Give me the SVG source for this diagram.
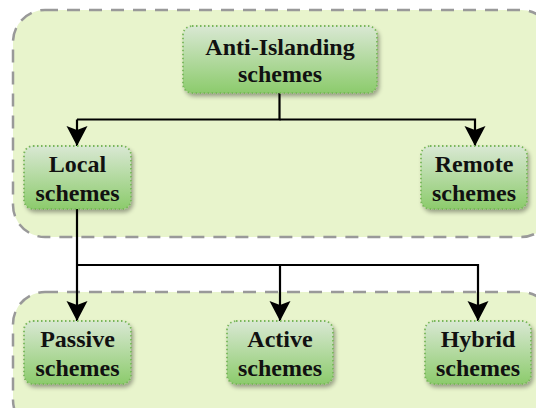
<svg xmlns="http://www.w3.org/2000/svg" width="536" height="408" viewBox="0 0 536 408">
<defs>
<linearGradient id="ng" x1="0" y1="0" x2="0" y2="1">
<stop offset="0" stop-color="#d9e8d3"/>
<stop offset="1" stop-color="#8ccb6c"/>
</linearGradient>
<filter id="sh" x="-10%" y="-10%" width="130%" height="140%">
<feGaussianBlur in="SourceAlpha" stdDeviation="2"/>
<feOffset dx="2" dy="3" result="b"/>
<feComponentTransfer><feFuncA type="linear" slope="0.35"/></feComponentTransfer>
<feMerge><feMergeNode/><feMergeNode in="SourceGraphic"/></feMerge>
</filter>
<marker id="arr" markerWidth="24" markerHeight="24" viewBox="0 0 24 24" refX="21" refY="12" orient="auto" markerUnits="userSpaceOnUse">
<path d="M1,1.5 L21,12 L1,22.5 L5,12 Z" fill="#000"/>
</marker>
<style>
.cont{fill:#e8f4cc;stroke:#999;stroke-width:2.5;stroke-dasharray:13,9}
.node{fill:url(#ng);stroke:#78b65a;stroke-width:1.8;stroke-dasharray:1.5,2.5;filter:url(#sh)}
.lbl{font-family:"Liberation Serif","Times New Roman",serif;font-weight:bold;font-size:24px;fill:#111;text-anchor:middle}
.edge{fill:none;stroke:#000;stroke-width:2.2}
</style>
</defs>
<g id="container-top"><rect class="cont" x="13" y="10" width="540" height="227" rx="32"/></g>
<g id="container-bottom"><rect class="cont" x="13" y="292" width="540" height="140" rx="32"/></g>
<g id="connectors">
<path class="edge" d="M279.5,93 V119.5 H77"/>
<path class="edge" d="M279.5,119.5 H475 V146" marker-end="url(#arr)"/>
<path class="edge" d="M77,119.5 V146" marker-end="url(#arr)"/>
<path class="edge" d="M77,209 V321" marker-end="url(#arr)"/>
<path class="edge" d="M77,265 H478 V321" marker-end="url(#arr)"/>
<path class="edge" d="M280,265 V321" marker-end="url(#arr)"/>
</g>
<g id="anti-islanding"><rect class="node" x="183" y="26" width="194" height="67" rx="9"/><text class="lbl" x="280" y="54.5">Anti-Islanding</text><text class="lbl" x="280" y="82">schemes</text></g>
<g id="local"><rect class="node" x="24" y="146" width="107" height="63" rx="9"/><text class="lbl" x="77.5" y="172">Local</text><text class="lbl" x="77.5" y="201">schemes</text></g>
<g id="remote"><rect class="node" x="421" y="146" width="106" height="63" rx="9"/><text class="lbl" x="474" y="172">Remote</text><text class="lbl" x="474" y="201">schemes</text></g>
<g id="passive"><rect class="node" x="24" y="321" width="107" height="63" rx="9"/><text class="lbl" x="77.5" y="347">Passive</text><text class="lbl" x="77.5" y="376">schemes</text></g>
<g id="active"><rect class="node" x="227" y="321" width="106" height="63" rx="9"/><text class="lbl" x="280" y="347">Active</text><text class="lbl" x="280" y="376">schemes</text></g>
<g id="hybrid"><rect class="node" x="425" y="321" width="106" height="63" rx="9"/><text class="lbl" x="478" y="347">Hybrid</text><text class="lbl" x="478" y="376">schemes</text></g>
</svg>
